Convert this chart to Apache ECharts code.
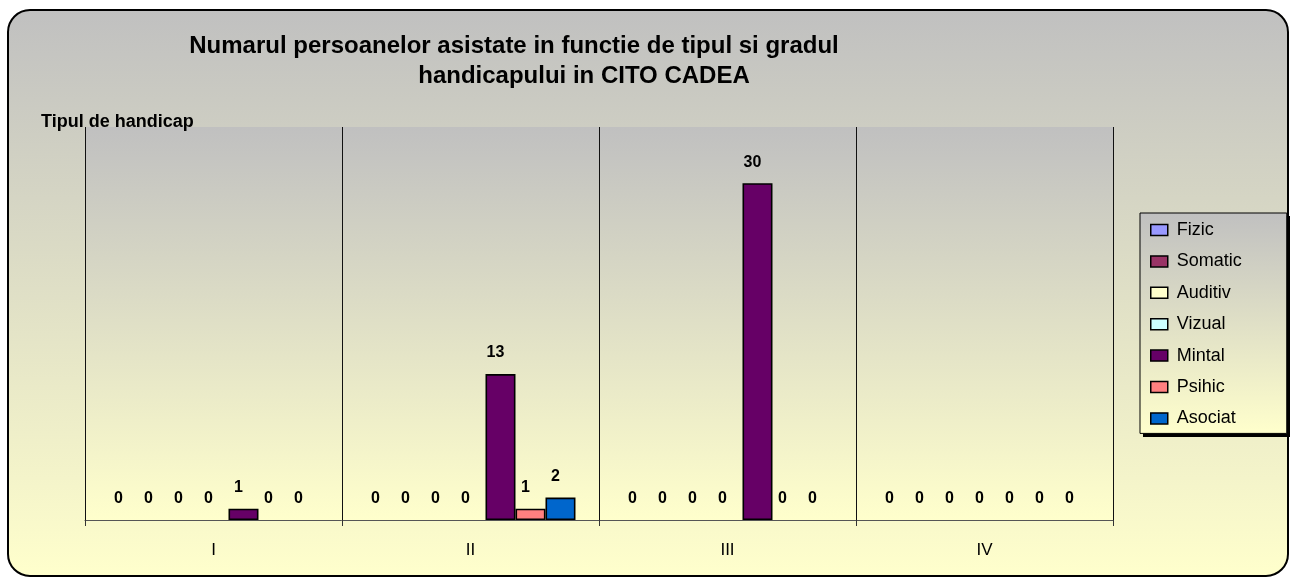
<!DOCTYPE html>
<html>
<head>
<meta charset="utf-8">
<style>
html,body{margin:0;padding:0;background:#ffffff;}
#chart{width:1290px;height:578px;}
</style>
<script src="https://cdn.jsdelivr.net/npm/echarts@6/dist/echarts.min.js"></script>
</head>
<body>
<div id="chart"></div>
<script>
var categories = ['I', 'II', 'III', 'IV'];
var seriesNames = ['Fizic', 'Somatic', 'Auditiv', 'Vizual', 'Mintal', 'Psihic', 'Asociat'];
var fizic   = [0, 0, 0, 0];
var somatic = [0, 0, 0, 0];
var auditiv = [0, 0, 0, 0];
var vizual  = [0, 0, 0, 0];
var mintal  = [1, 13, 30, 0];
var psihic  = [0, 1, 0, 0];
var asociat = [0, 2, 0, 0];
var seriesColors = ['#9999ff', '#993366', '#ffffcc', '#ccffff', '#660066', '#ff8080', '#0066cc'];
var titleLine1 = 'Numarul persoanelor asistate in functie de tipul si gradul';
var titleLine2 = 'handicapului in CITO CADEA';
var axisName = 'Tipul de handicap';

var allData = [fizic, somatic, auditiv, vizual, mintal, psihic, asociat];
var FONT = 'Liberation Sans, Arial, sans-serif';

function vGrad(c1, c2) {
  return new echarts.graphic.LinearGradient(0, 0, 0, 1, [
    {offset: 0, color: c1}, {offset: 1, color: c2}
  ]);
}

var series = seriesNames.map(function (name, i) {
  return {
    name: name,
    type: 'bar',
    data: allData[i].map(function (v) {
      return v === 0 ? {value: v, itemStyle: {borderWidth: 0}} : v;
    }),
    barGap: '0%',
    barCategoryGap: '18.3%',
    itemStyle: {color: seriesColors[i], borderColor: '#000', borderWidth: 1.6},
    label: {
      show: true,
      position: 'top',
      distance: 13,
      offset: [-5, 0],
      color: '#000',
      fontFamily: FONT,
      fontWeight: 'bold',
      fontSize: 16
    }
  };
});

var chart = echarts.init(document.getElementById('chart'), null, {renderer: 'canvas'});
chart.setOption({
  animation: false,
  backgroundColor: 'transparent',
  graphic: [{
    type: 'rect',
    z: -100,
    silent: true,
    shape: {x: 8, y: 10, width: 1280, height: 566, r: 22},
    style: {fill: vGrad('#c0c0c0', '#ffffcc'), stroke: '#000', lineWidth: 2}
  }, {
    type: 'rect',
    z: 1,
    silent: true,
    shape: {x: 1143, y: 216, width: 147, height: 221},
    style: {fill: '#000'}
  }],
  title: [{
    text: titleLine1,
    left: 514, top: 46, padding: 0,
    textAlign: 'center', textVerticalAlign: 'middle',
    textStyle: {fontFamily: FONT, fontWeight: 'bold', fontSize: 24, color: '#000'}
  }, {
    text: titleLine2,
    left: 584, top: 76, padding: 0,
    textAlign: 'center', textVerticalAlign: 'middle',
    textStyle: {fontFamily: FONT, fontWeight: 'bold', fontSize: 24, color: '#000'}
  }, {
    text: axisName,
    left: 41, top: 122, padding: 0,
    textAlign: 'left', textVerticalAlign: 'middle',
    textStyle: {fontFamily: FONT, fontWeight: 'bold', fontSize: 18, color: '#000'}
  }],
  legend: {
    data: seriesNames,
    orient: 'vertical',
    left: 1140, top: 213,
    z: 5,
    padding: [8, 45, 6, 10],
    itemWidth: 17, itemHeight: 11,
    itemGap: 13.4,
    icon: 'rect',
    itemStyle: {borderColor: '#000', borderWidth: 1.5},
    textStyle: {fontFamily: FONT, fontSize: 18, color: '#000', padding: [0, 0, 0, 4]},
    backgroundColor: vGrad('#c0c0c0', '#ffffcc'),
    borderColor: '#000', borderWidth: 1
  },
  grid: {
    left: 85, right: 177, top: 127, bottom: 58,
    show: true,
    backgroundColor: vGrad('#c0c0c0', '#ffffcc'),
    borderWidth: 0
  },
  xAxis: {
    type: 'category',
    data: categories,
    boundaryGap: true,
    axisLine: {show: true, lineStyle: {color: '#555', width: 1}},
    axisTick: {show: true, length: 6, alignWithLabel: false, lineStyle: {color: '#333'}},
    splitLine: {show: true, lineStyle: {color: '#111', width: 1}},
    axisLabel: {margin: 22, color: '#000', fontFamily: FONT, fontSize: 17}
  },
  yAxis: {
    type: 'value',
    min: 0, max: 35, interval: 5,
    show: false,
    splitLine: {show: false}
  },
  series: series
});
</script>
</body>
</html>
